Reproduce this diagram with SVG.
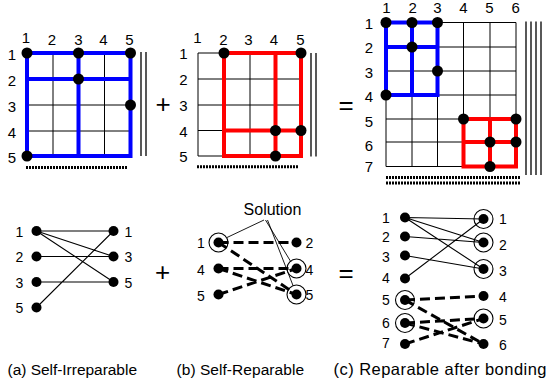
<svg xmlns="http://www.w3.org/2000/svg" width="551" height="387" viewBox="0 0 551 387">
  <style>
    text { font-family: "Liberation Sans", Arial, sans-serif; fill: #000; }
    .lbl { font-size: 15px; }
    .lbs { font-size: 14px; }
    .mid { text-anchor: middle; }
    .op { font-size: 26px; text-anchor: middle; }
    .cap { font-size: 15.5px; }
    .grid { fill: none; stroke: #000; stroke-width: 1; }
    .blue { fill: none; stroke: #0000ff; stroke-width: 4; stroke-linecap: square; stroke-linejoin: miter; }
    .red { fill: none; stroke: #ff0000; stroke-width: 4; stroke-linecap: square; stroke-linejoin: miter; }
    .bar { fill: none; stroke: #000; stroke-width: 1.3; }
    .dots { fill: none; stroke: #000; stroke-width: 3; stroke-dasharray: 2 1; }
    .edge { fill: none; stroke: #000; stroke-width: 1.1; }
    .dash { fill: none; stroke: #000; stroke-width: 3; stroke-dasharray: 10 5; }
    .ring { fill: none; stroke: #000; stroke-width: 1.1; }
    .thin { fill: none; stroke: #000; stroke-width: 0.9; }
  </style>
  <defs>
    <circle id="dot" r="5.5" fill="#000"/>
    <circle id="sdot" r="5" fill="#000"/>
    <circle id="ring" r="9.5" class="ring"/>
  </defs>
  <rect width="551" height="387" fill="#fff"/>

  <!-- (a) 5x5 switch grid -->
  <g id="grid-a">
    <path class="grid" d="M27 53H130.5M27 79H130.5M27 105H130.5M27 131H130.5M27 156H130.5M27 53V156M53 53V156M78.5 53V156M104.5 53V156M130.5 53V156"/>
    <path class="blue" d="M27 53H130.5M27 79H130.5M27 156H130.5M27 53V156M78.5 53V156M130.5 53V156"/>
    <use href="#dot" x="27" y="53"/><use href="#dot" x="78.5" y="53"/><use href="#dot" x="130.5" y="53"/>
    <use href="#dot" x="78.5" y="79"/><use href="#dot" x="130.5" y="105"/><use href="#dot" x="27" y="156"/>
    <path class="bar" d="M141 52V156M146 52V156"/>
    <path class="dots" d="M26 167.5H127"/>
    <text class="lbl mid" x="26" y="43.3">1</text>
    <text class="lbl mid" x="52" y="45">2</text>
    <text class="lbl mid" x="78.5" y="45">3</text>
    <text class="lbl mid" x="103.5" y="45">4</text>
    <text class="lbl mid" x="129.5" y="45">5</text>
    <text class="lbl mid" x="12" y="60">1</text>
    <text class="lbl mid" x="12" y="86">2</text>
    <text class="lbl mid" x="12" y="111.5">3</text>
    <text class="lbl mid" x="12" y="137.5">4</text>
    <text class="lbl mid" x="12" y="162.7">5</text>
  </g>

  <text class="op" x="163" y="113">+</text>

  <!-- (b) 5x5 switch grid -->
  <g id="grid-b">
    <path class="grid" d="M198 53H301M198 79H301M198 105H301M198 130.5H301M198 156H301M198 53V156M224 53V156M250 53V156M275.5 53V156M301 53V156"/>
    <path class="red" d="M224 53H301V156H224ZM275.5 53V156M224 130.5H301"/>
    <use href="#dot" x="224" y="53"/><use href="#dot" x="301" y="53"/>
    <use href="#dot" x="275.5" y="130.5"/><use href="#dot" x="301" y="130.5"/><use href="#dot" x="275.5" y="156"/>
    <path class="bar" d="M311 53V156.5M316 53V156.5"/>
    <path class="dots" d="M197 166.7H298"/>
    <text class="lbl mid" x="197.5" y="42.7">1</text>
    <text class="lbl mid" x="223.3" y="45">2</text>
    <text class="lbl mid" x="248.5" y="45">3</text>
    <text class="lbl mid" x="274" y="45">4</text>
    <text class="lbl mid" x="300.5" y="45">5</text>
    <text class="lbl mid" x="183.5" y="59.3">1</text>
    <text class="lbl mid" x="183.5" y="85.3">2</text>
    <text class="lbl mid" x="183.5" y="111">3</text>
    <text class="lbl mid" x="183.5" y="136.5">4</text>
    <text class="lbl mid" x="183.5" y="161.7">5</text>
  </g>

  <text class="op" x="346" y="114">=</text>

  <!-- (c) 7x6 bonded grid -->
  <g id="grid-c">
    <path class="grid" d="M386 22.5H516M386 47H516M386 71H516M386 95H516M386 119H516M386 142H516M386 166.5H516M386 22.5V166.5M412 22.5V166.5M437.5 22.5V166.5M463.5 22.5V166.5M490 22.5V166.5M516 22.5V166.5"/>
    <path class="blue" d="M386 22.5H437.5V95H386ZM412 22.5V95M386 47H437.5"/>
    <path class="red" d="M463.5 119H516V166.5H463.5ZM490 119V166.5M463.5 142H516"/>
    <use href="#dot" x="386" y="22.5"/><use href="#dot" x="412" y="22.5"/><use href="#dot" x="437.5" y="22.5"/>
    <use href="#dot" x="412" y="47"/><use href="#dot" x="437.5" y="71"/><use href="#dot" x="386" y="95"/>
    <use href="#dot" x="463.5" y="119"/><use href="#dot" x="516" y="119"/>
    <use href="#dot" x="490" y="142"/><use href="#dot" x="516" y="142"/><use href="#dot" x="490" y="166.5"/>
    <path class="bar" d="M526 21.5V175M531 21.5V175M536 21.5V175M541 21.5V175"/>
    <path class="dots" d="M386 177.5H520M386 183H520"/>
    <text class="lbl mid" x="386.5" y="12.8">1</text>
    <text class="lbl mid" x="412.7" y="12.8">2</text>
    <text class="lbl mid" x="437.5" y="12.8">3</text>
    <text class="lbl mid" x="463.3" y="12.8">4</text>
    <text class="lbl mid" x="489.3" y="12.8">5</text>
    <text class="lbl mid" x="515.7" y="12.8">6</text>
    <text class="lbl mid" x="369" y="29.3">1</text>
    <text class="lbl mid" x="369" y="52.7">2</text>
    <text class="lbl mid" x="369" y="78">3</text>
    <text class="lbl mid" x="369" y="101.7">4</text>
    <text class="lbl mid" x="369" y="127.3">5</text>
    <text class="lbl mid" x="369" y="150.7">6</text>
    <text class="lbl mid" x="369" y="171.7">7</text>
  </g>

  <!-- (a) bipartite graph -->
  <g id="graph-a">
    <g class="connectors">
      <path class="edge" d="M36.5 231L113.5 231M36.5 231L113.5 256.5M36.5 231L113.5 282M36.5 256.5L113.5 256.5M36.5 282L113.5 282M36.5 307.5L113.5 231"/>
    </g>
    <use href="#sdot" x="36.5" y="231"/><use href="#sdot" x="36.5" y="256.5"/>
    <use href="#sdot" x="36.5" y="282"/><use href="#sdot" x="36.5" y="307.5"/>
    <use href="#sdot" x="113.5" y="231"/><use href="#sdot" x="113.5" y="256.5"/><use href="#sdot" x="113.5" y="282"/>
    <text class="lbs mid" x="19.5" y="236.5">1</text>
    <text class="lbs mid" x="19.5" y="262">2</text>
    <text class="lbs mid" x="19.5" y="287.5">3</text>
    <text class="lbs mid" x="19.5" y="313">5</text>
    <text class="lbs" x="124.5" y="236.5">1</text>
    <text class="lbs" x="124.5" y="262">3</text>
    <text class="lbs" x="124.5" y="287.5">5</text>
  </g>

  <text class="op" x="162.5" y="280.5">+</text>

  <!-- (b) bipartite graph -->
  <g id="graph-b">
    <g class="connectors">
      <path class="dash" d="M218.5 242.5L296.5 242.5M218.5 242.5L296.5 294.5M218.5 268.5L296.5 268.5M218.5 268.5L296.5 294.5M218.5 294.5L296.5 268.5"/>
      <path class="thin" d="M264 220L227 237.5M265.5 220L291 262M267.5 220L293 285.5"/>
    </g>
    <use href="#sdot" x="218.5" y="242.5"/><use href="#sdot" x="218.5" y="268.5"/><use href="#sdot" x="218.5" y="294.5"/>
    <use href="#sdot" x="296.5" y="242.5"/><use href="#sdot" x="296.5" y="268.5"/><use href="#sdot" x="296.5" y="294.5"/>
    <use href="#ring" x="218.5" y="242.5"/><use href="#ring" x="296.5" y="268.5"/><use href="#ring" x="296.5" y="294.5"/>
    <text class="mid" x="272.5" y="215" style="font-size:16px">Solution</text>
    <text class="lbs mid" x="201" y="248">1</text>
    <text class="lbs mid" x="201" y="274.5">4</text>
    <text class="lbs mid" x="201" y="300.5">5</text>
    <text class="lbs" x="305.5" y="248">2</text>
    <text class="lbs" x="305.5" y="274.5">4</text>
    <text class="lbs" x="305.5" y="300">5</text>
  </g>

  <text class="op" x="346" y="282">=</text>

  <!-- (c) bipartite graph -->
  <g id="graph-c">
    <g class="connectors">
      <path class="edge" d="M405 217.5L483.5 219M405 217.5L483.5 242.5M405 217.5L483.5 269M405 236.5L483.5 242.5M405 255.5L483.5 269M405 278.5L483.5 219"/>
      <path class="dash" d="M405 300L483.5 296M405 300L483.5 344M405 323L483.5 318.5M405 323L483.5 344M405 344L483.5 318.5"/>
    </g>
    <use href="#sdot" x="405" y="217.5"/><use href="#sdot" x="405" y="236.5"/><use href="#sdot" x="405" y="255.5"/>
    <use href="#sdot" x="405" y="278.5"/><use href="#sdot" x="405" y="300"/><use href="#sdot" x="405" y="323"/><use href="#sdot" x="405" y="344"/>
    <use href="#sdot" x="483.5" y="219"/><use href="#sdot" x="483.5" y="242.5"/><use href="#sdot" x="483.5" y="269"/>
    <use href="#sdot" x="483.5" y="296"/><use href="#sdot" x="483.5" y="318.5"/><use href="#sdot" x="483.5" y="344"/>
    <use href="#ring" x="483.5" y="219"/><use href="#ring" x="483.5" y="242.5"/><use href="#ring" x="483.5" y="269"/>
    <use href="#ring" x="405" y="300"/><use href="#ring" x="405" y="323"/><use href="#ring" x="483.5" y="318.5"/>
    <text class="lbs mid" x="386" y="223.3">1</text>
    <text class="lbs mid" x="386" y="241.7">2</text>
    <text class="lbs mid" x="386" y="261.7">3</text>
    <text class="lbs mid" x="386" y="283.3">4</text>
    <text class="lbs mid" x="386" y="305">5</text>
    <text class="lbs mid" x="386" y="328.3">6</text>
    <text class="lbs mid" x="386" y="348.3">7</text>
    <text class="lbs" x="499" y="224.3">1</text>
    <text class="lbs" x="499" y="250">2</text>
    <text class="lbs" x="499" y="276">3</text>
    <text class="lbs" x="499" y="301.7">4</text>
    <text class="lbs" x="499" y="325">5</text>
    <text class="lbs" x="499" y="350">6</text>
  </g>

  <!-- captions -->
  <text class="cap" x="7.5" y="375" textLength="129.5">(a) Self-Irreparable</text>
  <text class="cap" x="176.5" y="375" textLength="127.5">(b) Self-Reparable</text>
  <text class="cap" x="333.5" y="375" style="font-size:16.5px" textLength="213">(c) Reparable after bonding</text>
</svg>
